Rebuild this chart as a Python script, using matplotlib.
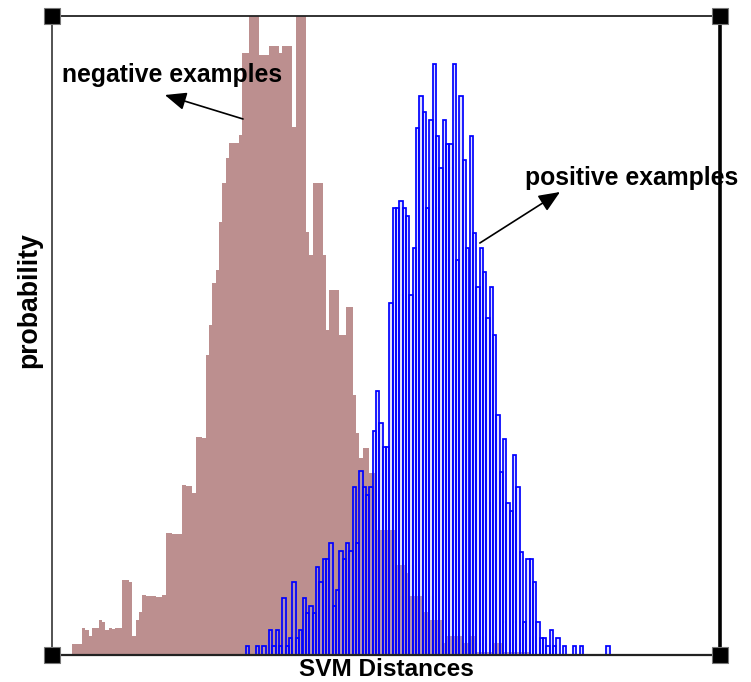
import numpy as np
import matplotlib
matplotlib.use("Agg")
from matplotlib import pyplot as plt

# histogram counts per bin (bin width 1 on a 0..200 axis)
neg_counts = [0, 0, 1, 1, 1, 1, 11, 11, 11, 27,
              25, 19, 27, 27, 35, 33, 25, 27, 26, 27,
              27, 75, 75, 73, 19, 35, 43, 60, 59, 59,
              59, 58, 58, 60, 122, 122, 121, 121, 121, 170,
              169, 169, 162, 218, 218, 217, 300, 330, 372, 385,
              433, 472, 497, 512, 512, 512, 520, 602, 602, 680,
              680, 680, 600, 600, 600, 609, 609, 609, 602, 609,
              609, 609, 528, 680, 680, 680, 423, 400, 472, 472,
              472, 400, 325, 365, 365, 365, 320, 320, 348, 348,
              260, 222, 197, 207, 207, 182, 182, 125, 125, 125,
              125, 125, 125, 90, 90, 90, 82, 59, 59, 59,
              59, 43, 43, 35, 35, 35, 35, 12, 19, 19,
              19, 19, 19, 12, 12, 19, 19, 3, 3, 3,
              3, 3, 12, 12, 12, 3, 3, 3, 3, 3,
              3, 3, 3]

pos_counts = [0] * 58 + [
    9, 0, 0, 9, 0, 9, 0, 25, 9, 25,
    9, 57, 9, 17, 73, 17, 25, 57, 42, 49,
    42, 88, 73, 96, 96, 112, 49, 65, 104, 96,
    112, 104, 168, 112, 184, 168, 160, 168, 224, 264,
    232, 208, 208, 352, 447, 447, 454, 447, 439, 360,
    407, 527, 559, 543, 447, 535, 591, 519, 487, 535,
    511, 511, 591, 395, 559, 495, 407, 519, 422, 368,
    407, 383, 337, 368, 320, 240, 183, 216, 152, 144,
    200, 168, 103, 33, 96, 96, 73, 33, 17, 17,
    9, 25, 9, 17, 0, 9, 0, 0, 9, 0,
    9, 0, 0, 0, 0, 0, 0, 0, 9]

fig = plt.figure(figsize=(7.51, 6.82), dpi=100)
ax = fig.add_axes([52 / 751, 1 - 655 / 682, 668 / 751, 639 / 682])

# negative histogram as one filled outline (no seams between bins)
ax.stairs(neg_counts, np.arange(len(neg_counts) + 1), fill=True,
          color='rosybrown', linewidth=0)
ax.bar(np.arange(len(pos_counts)), pos_counts, width=1, align='edge',
       facecolor=(0.6, 0.6, 1.0, 0.3), edgecolor='blue', linewidth=1.25)

ax.set_xlim(0, 200)
ax.set_ylim(0, 639)
ax.set_xticks([])
ax.set_yticks([])

for side, lw, col in [('left', 1.3, '#444444'), ('top', 1.3, '#222222'),
                      ('right', 2.6, 'black'), ('bottom', 1.6, '#222222')]:
    ax.spines[side].set_linewidth(lw)
    ax.spines[side].set_color(col)

# black corner handles
ax.plot([0, 1, 0, 1], [0, 0, 1, 1], 's', transform=ax.transAxes,
        color='black', markersize=12, markeredgecolor='#777777',
        markeredgewidth=0.8, clip_on=False, zorder=5)

font = dict(family='Liberation Sans', weight='bold')
fig.text(386 / 751, 1 - 676 / 682, 'SVM Distances', fontsize=17.6,
         ha='center', va='baseline', **font)
fig.text(29 / 751, 1 - 300 / 682, 'probability', rotation=90, fontsize=19.2,
         ha='center', va='center', **font)

arrow = dict(arrowstyle='-|>,head_length=1.3,head_width=0.55',
             color='black', lw=1.2, shrinkA=0, shrinkB=0)
ax.text(36, 580, 'negative examples', fontsize=17.8, ha='center', va='center', **font)
ax.annotate('', xy=(33.8, 560), xytext=(57.2, 536), arrowprops=arrow)
ax.text(173.4, 477, 'positive examples', fontsize=17.8, ha='center', va='center',
        clip_on=False, **font)
ax.annotate('', xy=(152.1, 463), xytext=(128.1, 412), arrowprops=arrow)

fig.savefig('out.png', dpi=100)
